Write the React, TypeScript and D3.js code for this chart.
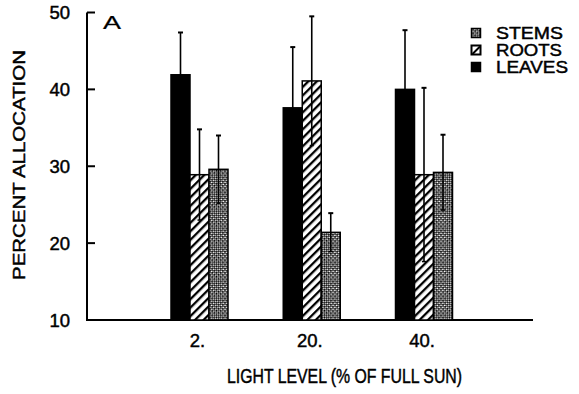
import React from "react";
import * as d3 from "d3";

// Light treatments (% of full sun)
const categories = ["2.", "20.", "40."];
const seriesNames = ["LEAVES", "ROOTS", "STEMS"];

// Mean percent allocation and one standard error
const leaves = [41.9, 37.6, 40.0];
const leavesErr = [5.5, 7.9, 7.7];
const roots = [28.9, 41.1, 28.9];
const rootsErr = [5.9, 8.4, 11.3];
const stems = [29.6, 21.4, 29.2];
const stemsErr = [4.4, 2.5, 4.9];

const yTicks = [10, 20, 30, 40, 50];
const legendOrder = ["STEMS", "ROOTS", "LEAVES"];

const W = 579;
const H = 394;
const FONT = "'Liberation Sans', Arial, Helvetica, sans-serif";

const values: Record<string, number[]> = { LEAVES: leaves, ROOTS: roots, STEMS: stems };
const errors: Record<string, number[]> = { LEAVES: leavesErr, ROOTS: rootsErr, STEMS: stemsErr };
const fills: Record<string, string> = {
  LEAVES: "#000",
  ROOTS: "url(#hatch)",
  STEMS: "url(#dots)",
};

// slightly heavier type, like a printed figure
const ink = { fill: "#000", stroke: "#000", strokeWidth: 0.45 };

export default function App() {
  const x0 = 87;
  const xEnd = 533;
  const y = d3.scaleLinear().domain([10, 50]).range([320, 12.5]);
  const xGroup = d3.scalePoint<string>().domain(categories).range([199.5, 424]);
  const xBar = d3.scaleBand<string>().domain(seriesNames).range([-28.5, 28.5]).padding(0);
  const bw = xBar.bandwidth();

  const legendY = d3.scalePoint<string>().domain(legendOrder).range([33, 67]);
  const legendLen: Record<string, number> = { STEMS: 67, ROOTS: 66, LEAVES: 72 };

  return (
    <svg
      width={W}
      height={H}
      style={{ position: "absolute", left: 0, top: 0, background: "#fff" }}
      fontFamily={FONT}
    >
      <defs>
        <pattern id="hatch" patternUnits="userSpaceOnUse" width="6" height="6" patternTransform="rotate(45)">
          <rect width="6" height="6" fill="#fff" />
          <rect x="0" y="0" width="2.3" height="6" fill="#000" />
        </pattern>
        <pattern id="dots" patternUnits="userSpaceOnUse" width="3" height="3" patternTransform="rotate(45)">
          <rect width="3" height="3" fill="#fff" />
          <rect x="0" y="0" width="1.8" height="1.8" fill="#000" />
          <rect x="1.5" y="1.5" width="1.5" height="1.5" fill="#000" />
        </pattern>
      </defs>

      {/* axes */}
      <line x1={x0} x2={x0} y1={y(50)} y2={y(10)} stroke="#000" strokeWidth={2} />
      <line x1={x0 - 1} x2={xEnd} y1={y(10)} y2={y(10)} stroke="#000" strokeWidth={2} />
      {yTicks.map((t) => (
        <g key={t}>
          {t > 10 && (
            <line x1={x0} x2={x0 + 8} y1={y(t)} y2={y(t)} stroke="#000" strokeWidth={2} />
          )}
          <text x={70} y={y(t) + 6.5} textAnchor="end" fontSize={18.5} {...ink}>
            {t}
          </text>
        </g>
      ))}
      <text
        x={103}
        y={28.5}
        fontSize={19}
        textLength={18}
        lengthAdjust="spacingAndGlyphs"
        fill="#000"
        stroke="#000"
        strokeWidth={0.2}
      >
        A
      </text>

      {/* bars */}
      {categories.map((c, i) => (
        <g key={c} transform={`translate(${xGroup(c)},0)`}>
          {seriesNames.map((s) => {
            const v = values[s][i];
            const bx = xBar(s)!;
            return (
              <rect
                key={s}
                x={bx}
                y={y(v)}
                width={bw}
                height={y(10) - y(v)}
                fill={fills[s]}
                stroke="#000"
                strokeWidth={1.5}
              />
            );
          })}
          {seriesNames.map((s) => {
            const v = values[s][i];
            const e = errors[s][i];
            const cx = xBar(s)! + bw / 2;
            return (
              <g key={s + "err"} stroke="#000">
                <line x1={cx} x2={cx} y1={y(v + e)} y2={y(v - e)} strokeWidth={1.6} />
                <line x1={cx - 2.5} x2={cx + 2.5} y1={y(v + e)} y2={y(v + e)} strokeWidth={2} />
                <line x1={cx - 2} x2={cx + 2} y1={y(v - e)} y2={y(v - e)} strokeWidth={1.5} />
              </g>
            );
          })}
          <text x={-2} y={346.5} textAnchor="middle" fontSize={18.5} {...ink}>
            {c}
          </text>
        </g>
      ))}

      {/* axis titles */}
      <text
        x={227}
        y={383}
        fontSize={20}
        textLength={235}
        lengthAdjust="spacingAndGlyphs"
        {...ink}
      >
        LIGHT LEVEL (% OF FULL SUN)
      </text>
      <text
        transform="translate(25,165) rotate(-90)"
        textAnchor="middle"
        fontSize={16.5}
        textLength={230}
        lengthAdjust="spacingAndGlyphs"
        {...ink}
      >
        PERCENT ALLOCATION
      </text>

      {/* legend */}
      {legendOrder.map((s) => {
        const cy = legendY(s)!;
        return (
          <g key={s}>
            {s === "ROOTS" ? (
              <g>
                <rect x={471.5} y={cy - 4.5} width={9} height={9} fill="#fff" stroke="#000" strokeWidth={2} />
                <line x1={472.5} y1={cy + 4} x2={480} y2={cy - 3.5} stroke="#000" strokeWidth={2} />
              </g>
            ) : (
              <rect x={471.5} y={cy - 4.5} width={9} height={9} fill={fills[s]} stroke="#000" strokeWidth={1.5} />
            )}
            <text
              x={496}
              y={cy + 6}
              fontSize={16.5}
              textLength={legendLen[s]}
              lengthAdjust="spacingAndGlyphs"
              {...ink}
            >
              {s}
            </text>
          </g>
        );
      })}
    </svg>
  );
}
